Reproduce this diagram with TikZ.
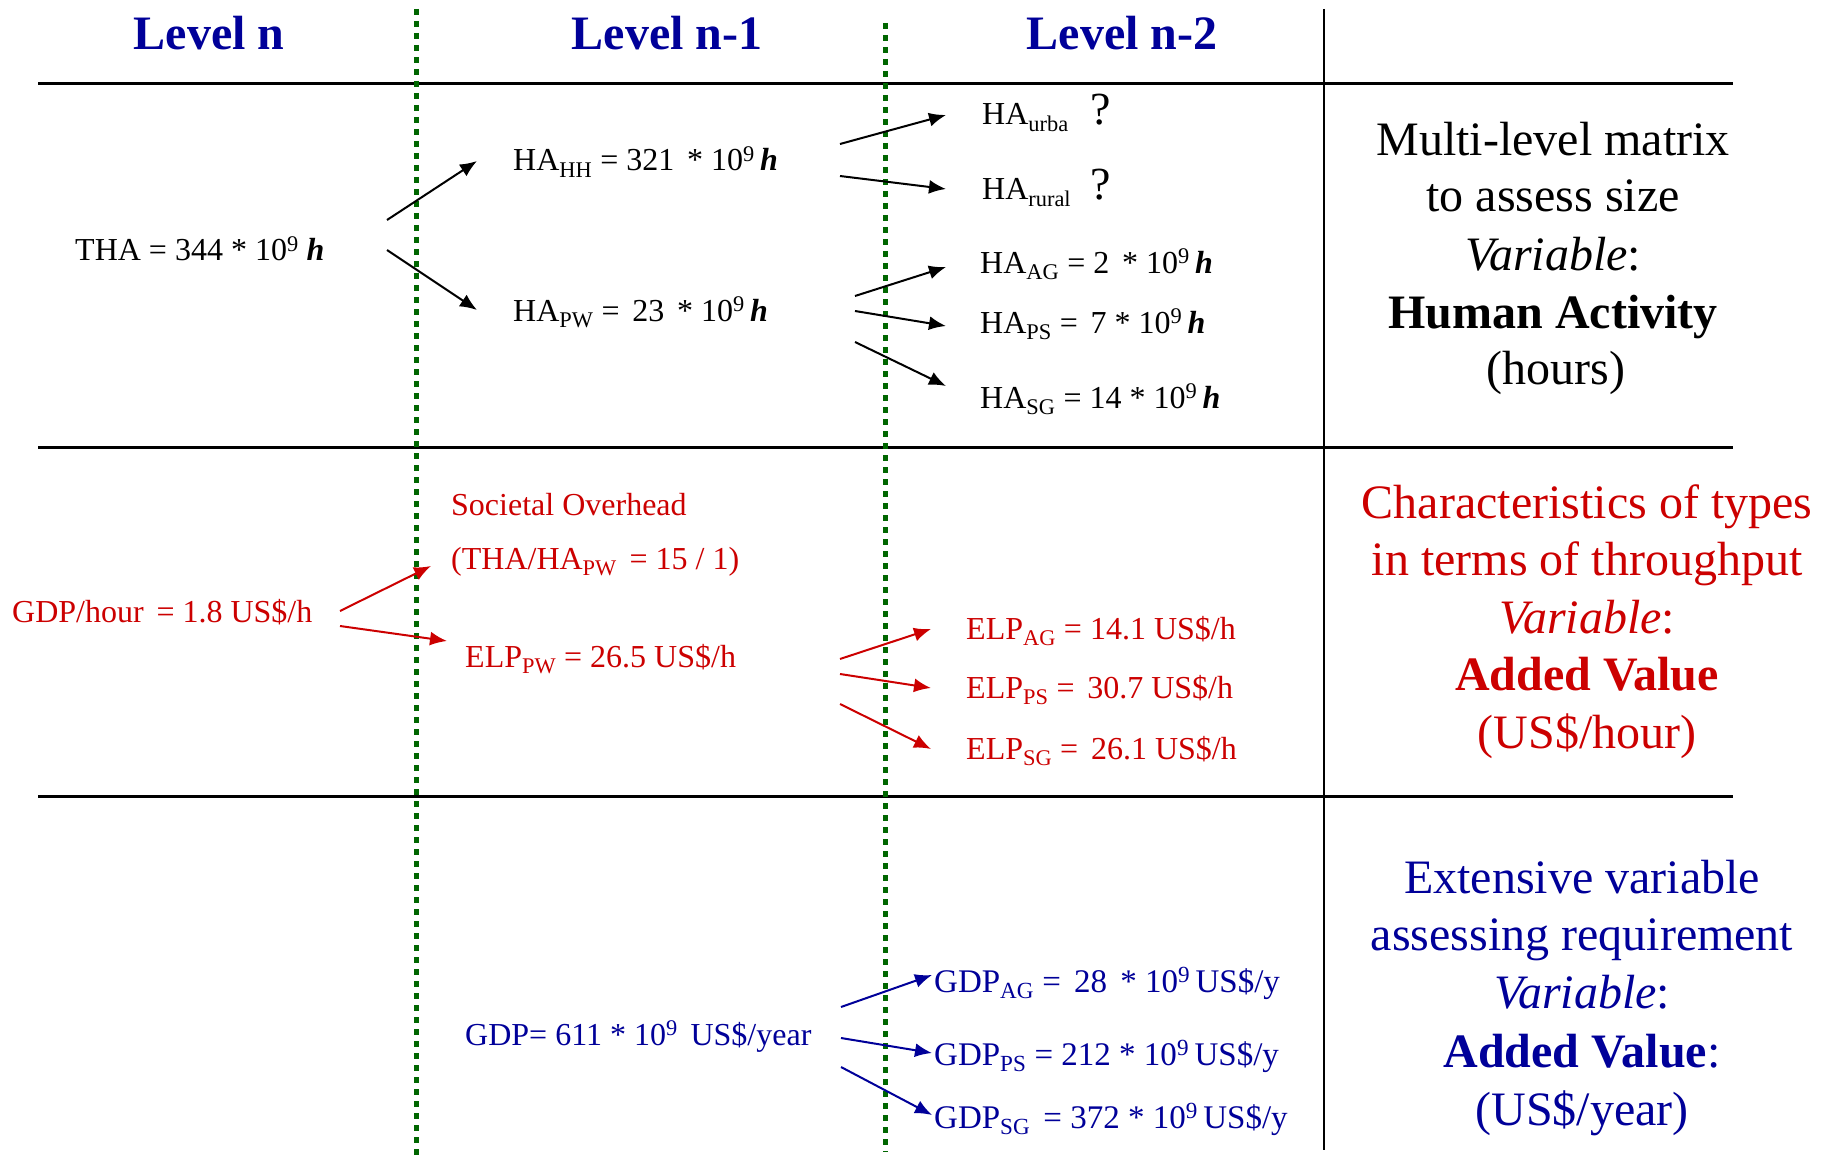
\documentclass[tikz,border=0pt]{standalone}
\usepackage{fontspec}
\setmainfont{Liberation Serif}
\usetikzlibrary{arrows.meta}
\definecolor{navy}{RGB}{0,0,153}
\definecolor{redt}{RGB}{204,0,0}
\definecolor{greenl}{RGB}{0,102,0}
\newcommand{\fsz}[1]{\fontsize{#1pt}{#1pt}\selectfont}
\newcommand{\bh}{\textbf{\textit{h}}}
\newcommand{\xsp}{\hspace{0.4em}}
\tikzset{
  txt/.style={inner sep=0pt, anchor=base west, font=\fsz{32}},
  hdr/.style={inner sep=0pt, anchor=base, font=\fsz{48}\bfseries, text=navy},
  rtxt/.style={inner sep=0pt, anchor=base, font=\fsz{48}},
  arr/.style={line width=2pt, -{Latex[length=17pt,width=14pt]}},
  hline/.style={line width=3pt},
  vline/.style={line width=2pt},
  gline/.style={draw=greenl, line width=5pt, dash pattern=on 6pt off 6pt},
}
\begin{document}
\begin{tikzpicture}[x=1pt,y=-1pt]
\useasboundingbox (0,0) rectangle (1829,1161);
\fill[white] (0,0) rectangle (1829,1161);

% grid lines
\coordinate (h1l) at (38,84);  \coordinate (h1r) at (1733,84);
\coordinate (h2l) at (38,447); \coordinate (h2r) at (1733,447);
\coordinate (h3l) at (38,796); \coordinate (h3r) at (1733,796);
\coordinate (v0t) at (1324,9); \coordinate (v0b) at (1324,1150);
\coordinate (g1t) at (416,9);  \coordinate (g1b) at (416,1158);
\coordinate (g2t) at (885,23); \coordinate (g2b) at (885,1152);
\draw[hline] (h1l) -- (h1r);
\draw[hline] (h2l) -- (h2r);
\draw[hline] (h3l) -- (h3r);
\draw[vline] (v0t) -- (v0b);
\draw[gline] (g1t) -- (g1b);
\draw[gline] (g2t) -- (g2b);

% headers
\node[hdr] (hn)  at (209,50)  {Level n};
\node[hdr] (hn1) at (667,50)  {Level n-1};
\node[hdr] (hn2) at (1122,50) {Level n-2};

% row 1 : human activity
\node[txt] (tha)  at (75,261)  {THA = 344 * 10\textsuperscript{9} \bh};
\node[txt] (hahh) at (513,171) {HA\textsubscript{HH} = 321\xsp * 10\textsuperscript{9}\,\bh};
\node[txt] (hapw) at (513,321) {HA\textsubscript{PW} =\xsp 23\xsp * 10\textsuperscript{9}\,\bh};
\node[txt] (haur) at (982,125) {HA\textsubscript{urba}};
\node[txt,font=\fsz{46}] (q1) at (1090,125) {?};
\node[txt] (haru) at (982,200) {HA\textsubscript{rural}};
\node[txt,font=\fsz{46}] (q2) at (1090,200) {?};
\node[txt] (haag) at (980,273) {HA\textsubscript{AG} = 2\xsp * 10\textsuperscript{9}\,\bh};
\node[txt] (haps) at (980,333) {HA\textsubscript{PS} =\xsp 7 * 10\textsuperscript{9}\,\bh};
\node[txt] (hasg) at (980,408) {HA\textsubscript{SG} = 14 * 10\textsuperscript{9}\,\bh};

\coordinate (a1s) at (387,220); \coordinate (a1e) at (477,161);
\coordinate (a2s) at (387,250); \coordinate (a2e) at (477,310);
\coordinate (a3s) at (840,144); \coordinate (a3e) at (946,115);
\coordinate (a4s) at (840,176); \coordinate (a4e) at (946,189);
\coordinate (a5s) at (855,296); \coordinate (a5e) at (946,267);
\coordinate (a6s) at (855,311); \coordinate (a6e) at (946,326);
\coordinate (a7s) at (855,342); \coordinate (a7e) at (946,386);
\draw[arr] (a1s) -- (a1e);
\draw[arr] (a2s) -- (a2e);
\draw[arr] (a3s) -- (a3e);
\draw[arr] (a4s) -- (a4e);
\draw[arr] (a5s) -- (a5e);
\draw[arr] (a6s) -- (a6e);
\draw[arr] (a7s) -- (a7e);

\node[rtxt] (m1) at (1553,156) {Multi-level matrix};
\node[rtxt] (m2) at (1553,212) {to assess size};
\node[rtxt] (m3) at (1553,270) {\textit{Variable}:};
\node[rtxt] (m4) at (1553,328) {\textbf{Human Activity}};
\node[rtxt] (m5) at (1556,384) {(hours)};

% row 2 : red
\begin{scope}[every node/.append style={text=redt}]
\node[txt] (soc)  at (451,515) {Societal Overhead};
\node[txt] (ratio) at (451,569) {(THA/HA\textsubscript{PW}\xsp = 15 / 1)};
\node[txt] (gdph)  at (12,622)  {GDP/hour\xsp = 1.8 US\$/h};
\node[txt] (elppw) at (465,667) {ELP\textsubscript{PW} = 26.5 US\$/h};
\node[txt] (elpag) at (966,639) {ELP\textsubscript{AG} = 14.1 US\$/h};
\node[txt] (elpps) at (966,698) {ELP\textsubscript{PS} =\xsp 30.7 US\$/h};
\node[txt] (elpsg) at (966,759) {ELP\textsubscript{SG} =\xsp 26.1 US\$/h};
\node[rtxt] (c1) at (1587,518) {Characteristics of types};
\node[rtxt] (c2) at (1587,575) {in terms of throughput};
\node[rtxt] (c3) at (1587,633) {\textit{Variable}:};
\node[rtxt] (c4) at (1587,690) {\textbf{Added Value}};
\node[rtxt] (c5) at (1587,748) {(US\$/hour)};
\end{scope}
\coordinate (b1s) at (340,611); \coordinate (b1e) at (431,566);
\coordinate (b2s) at (340,626); \coordinate (b2e) at (447,641);
\coordinate (b3s) at (840,659); \coordinate (b3e) at (931,629);
\coordinate (b4s) at (840,674); \coordinate (b4e) at (931,688);
\coordinate (b5s) at (840,704); \coordinate (b5e) at (931,749);
\draw[arr,redt] (b1s) -- (b1e);
\draw[arr,redt] (b2s) -- (b2e);
\draw[arr,redt] (b3s) -- (b3e);
\draw[arr,redt] (b4s) -- (b4e);
\draw[arr,redt] (b5s) -- (b5e);

% row 3 : blue
\begin{scope}[every node/.append style={text=navy}]
\node[txt] (gdp)   at (465,1045) {GDP= 611 * 10\textsuperscript{9}\xsp US\$/year};
\node[txt,font=\fsz{33}] (gdpag) at (934,992)  {GDP\textsubscript{AG} =\xsp 28\xsp * 10\textsuperscript{9}\,US\$/y};
\node[txt,font=\fsz{33}] (gdpps) at (934,1065) {GDP\textsubscript{PS} = 212 * 10\textsuperscript{9}\,US\$/y};
\node[txt,font=\fsz{33}] (gdpsg) at (934,1128) {GDP\textsubscript{SG}\xsp = 372 * 10\textsuperscript{9}\,US\$/y};
\node[rtxt] (e1) at (1582,893)  {Extensive variable};
\node[rtxt] (e2) at (1582,950)  {assessing requirement};
\node[rtxt] (e3) at (1582,1008) {\textit{Variable}:};
\node[rtxt] (e4) at (1582,1067) {\textbf{Added Value}:};
\node[rtxt] (e5) at (1582,1125) {(US\$/year)};
\end{scope}
\coordinate (c1s) at (841,1007); \coordinate (c1e) at (932,975);
\coordinate (c2s) at (841,1038); \coordinate (c2e) at (932,1053);
\coordinate (c3s) at (841,1067); \coordinate (c3e) at (932,1115);
\draw[arr,navy] (c1s) -- (c1e);
\draw[arr,navy] (c2s) -- (c2e);
\draw[arr,navy] (c3s) -- (c3e);
\end{tikzpicture}
\end{document}
